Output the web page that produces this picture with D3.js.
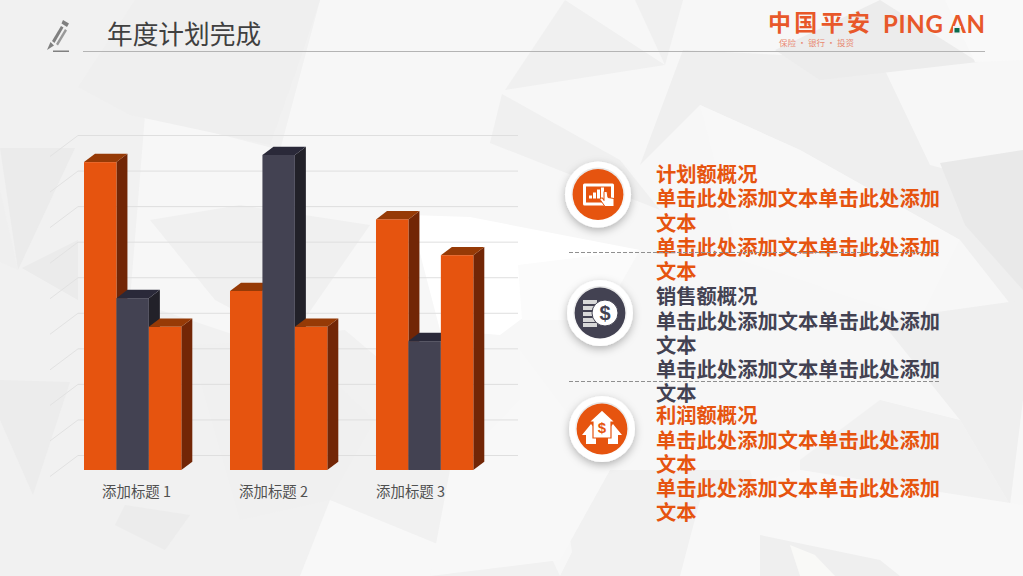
<!DOCTYPE html>
<html><head><meta charset="utf-8">
<script src="https://cdn.jsdelivr.net/npm/d3@7"></script>
<style>html,body{margin:0;padding:0;background:#f7f7f7;overflow:hidden}svg{display:block}text{font-family:"Noto Sans CJK SC","Noto Sans",sans-serif}</style>
</head><body><svg id="c" width="1023" height="576"></svg>
<script>
// ---- data ----
const categories = ["添加标题 1", "添加标题 2", "添加标题 3"];
const series1 = [4.3, 2.5, 3.5];
const series2 = [2.4, 4.4, 1.8];
const series3 = [2, 2, 3];
const gridTicks = [0.5, 1, 1.5, 2, 2.5, 3, 3.5, 4, 4.5, 5];
const pageTitle = "年度计划完成";
const blockHeads = ["计划额概况", "销售额概况", "利润额概况"];
const bodyLines = ["单击此处添加文本单击此处添加", "文本", "单击此处添加文本单击此处添加", "文本"];

const ORANGE = {front:"#e6540f", top:"#963a06", side:"#722606"};
const DARK = {front:"#434252", top:"#2a2939", side:"#222129"};
const seriesStyles = [ORANGE, DARK, ORANGE];

const svg = d3.select("#c");

// ---- decorative low-poly background ----
const bg = [
 ["#f1f1f1","0,0 320,0 280,150 145,115 130,300 250,340 345,330 510,470 560,576 0,576"],
 ["#efefef","135,0 320,0 300,60 270,145 130,115 78,87"],
 ["#f0f0f0","150,220 240,205 370,225 290,340 215,300"],
 ["#f0f0f0","190,345 290,340 375,420 330,500 240,520"],
 ["#ebebeb","0,148 75,148 18,270"],
 ["#ebebeb","22,268 78,240 78,300"],
 ["#ececec","0,380 70,382 33,495 0,420"],
 ["#ececec","125,505 190,515 165,550 115,525"],
 ["#efefef","0,190 18,270 0,262"],
 ["#ffffff","410,215 470,217 640,250 520,320 500,335 440,330"],
 ["#fbfbfb","518,265 640,250 600,320 522,320"],
 ["#f0f0f0","565,0 665,65 505,90"],
 ["#f0f0f0","502,94 620,160 660,210 490,143"],
 ["#f0f0f0","635,0 665,65 683,0"],
 ["#efefef","640,165 683,50 880,60 930,165 1023,190 1023,320 960,240 800,150 700,105"],
 ["#ececec","880,0 978,62 820,80 775,50"],
 ["#f9f9f9","945,0 1023,0 1023,60 975,62"],
 ["#e9e9e9","940,163 1023,150 1023,290 965,225"],
 ["#f8f8f8","700,105 800,150 960,240 920,320 740,260"],
 ["#efefef","880,320 1023,300 1023,400 1010,505 960,420"],
 ["#f1f1f1","800,460 880,400 960,420 1010,505 800,470"],
 ["#f1f1f1","560,470 750,470 780,576 560,576 572,552"],
 ["#f8f8f8","700,500 800,470 1023,505 1023,576 680,576"],
 ["#efefef","760,535 880,560 900,576 760,576"],
 ["#f9f9f7","790,545 815,555 835,576 800,576"],
 ["#f8f8f8","330,500 440,545 430,576 300,576"],
 ["#f8f8f8","450,470 520,400 520,350 610,470 560,560 430,576"]
];
svg.append("g").selectAll("polygon").data(bg).join("polygon")
  .attr("fill", d => d[0]).attr("points", d => d[1]);

// ---- scales ----
const y = d3.scaleLinear().domain([0, 5]).range([470, 112]);
const gridY = d3.scaleLinear().domain([0.5, 5]).range([455, 135]);
const x0 = d3.scaleBand().domain(categories).range([84, 473.3]).paddingInner(0.3335);
const x1 = d3.scaleBand().domain([0, 1, 2]).range([0, x0.bandwidth()]);
const labelX = d3.scalePoint().domain(categories).range([136, 410]);
const DX = 11, DY = -8.3;

// ---- grid ----
const grid = svg.append("g");
grid.selectAll(".gh").data(gridTicks).join("line").attr("class", "gh")
  .attr("x1", 78).attr("x2", 518).attr("y1", d => gridY(d)+.5).attr("y2", d => gridY(d)+.5)
  .attr("stroke", "#dfdfdf").attr("stroke-width", 1);
grid.selectAll(".go").data(gridTicks).join("line").attr("class", "go")
  .attr("x1", 78).attr("x2", 50).attr("y1", d => gridY(d)+.5).attr("y2", d => gridY(d)+21.5)
  .attr("stroke", "#e2e2e2").attr("stroke-width", 1);

// ---- bars ----
const rows = categories.map((c, i) => ({c, v: [series1[i], series2[i], series3[i]]}));
const groups = svg.append("g").selectAll("g").data(rows).join("g")
  .attr("transform", d => `translate(${x0(d.c)},0)`);
const bars = groups.selectAll("g").data(d => d.v.map((v, s) => ({v, s}))).join("g");
const W = x1.bandwidth();
bars.append("path").attr("fill", d => seriesStyles[d.s].side)
  .attr("d", d => { const l = x1(d.s)+W, t = y(d.v), b = y(0);
    return `M${l},${t}L${l+DX},${t+DY}L${l+DX},${b+DY}L${l},${b}Z`; });
bars.append("path").attr("fill", d => seriesStyles[d.s].top)
  .attr("d", d => { const l = x1(d.s), t = y(d.v);
    return `M${l},${t}L${l+DX},${t+DY}L${l+W+DX},${t+DY}L${l+W},${t}Z`; });
bars.append("rect").attr("fill", d => seriesStyles[d.s].front)
  .attr("x", d => x1(d.s)).attr("width", W)
  .attr("y", d => y(d.v)).attr("height", d => y(0)-y(d.v));

// ---- category axis ----
const ax = svg.append("g").attr("transform", "translate(0,485.5)")
  .call(d3.axisBottom(labelX).tickSize(0).tickPadding(0));
ax.select(".domain").remove();
ax.selectAll("text").attr("dy", "0.78em").attr("font-size", 14.4).attr("font-weight", 400)
  .attr("fill", "#505050").style("font-family", '"Noto Sans CJK SC"');

// ---- header ----
svg.append("line").attr("x1", 83).attr("x2", 985).attr("y1", 51.5).attr("y2", 51.5).attr("stroke", "#b4b4b4");
svg.append("text").attr("x", 107).attr("y", 44).attr("font-size", 25.7).attr("fill", "#404040")
  .attr("font-weight", 400).text(pageTitle);
const pencil = svg.append("g").attr("fill", "#808080");
pencil.append("path").attr("d", "M47,50L50.5,42L54,45.5Z");
pencil.append("path").attr("d", "M52,41L61,26L63.5,27.5L54.5,43Z");
pencil.append("path").attr("d", "M56,44L65,29L67,30.5L58,45.5Z").attr("fill", "#999");
pencil.append("path").attr("d", "M61.5,23.5L63,20L69,23.5L67,27Z");
pencil.append("rect").attr("x", 53).attr("y", 50.5).attr("width", 16).attr("height", 1.5);

// ---- logo ----
svg.append("text").attr("x", 768).attr("y", 31).attr("font-size", 23).attr("font-weight", 700)
  .attr("fill", "#e8582a").attr("textLength", 102).attr("lengthAdjust", "spacing").text("中国平安");
svg.append("text").attr("x", 883).attr("y", 33).attr("font-size", 24).attr("font-weight", 700)
  .attr("fill", "#e8582a").style("font-family", '"Lato"').attr("textLength", 102).attr("lengthAdjust", "spacing").text("PING AN");
svg.append("rect").attr("x", 953).attr("y", 26).attr("width", 8).attr("height", 7.5).attr("fill", "#f0f0f0");
svg.append("rect").attr("x", 954.5).attr("y", 28).attr("width", 5).attr("height", 4.5).attr("fill", "#0a6b4c");
svg.append("text").attr("x", 779).attr("y", 45.5).attr("font-size", 8.5).attr("fill", "#e88a72")
  .attr("textLength", 75).text("保险 · 银行 · 投资");

// ---- right text ----
const lineTops = [[174.5,198.5,223.5,247.5,271.5],[296.5,321.5,345.5,369.5,394],[415.5,440.5,464.5,488.5,512.5]];
const blockColors = [ORANGE.front, DARK.front, ORANGE.front];
blockHeads.forEach((h, b) => {
  const lines = [h, ...bodyLines];
  svg.append("g").selectAll("text").data(lines).join("text")
    .attr("x", 656).attr("y", (d, i) => lineTops[b][i]).attr("dy", "0.36em")
    .attr("font-size", 20.3).attr("font-weight", 700).attr("fill", blockColors[b]).text(d => d);
});
[252.5, 381.5].forEach(yy => svg.append("line").attr("x1", 569).attr("x2", 940).attr("y1", yy).attr("y2", yy)
  .attr("stroke", "#8f8f8f").attr("stroke-dasharray", "4 2"));

// ---- round icons ----
const defs = svg.append("defs");
const f = defs.append("filter").attr("id", "sh").attr("x", "-40%").attr("y", "-40%").attr("width", "180%").attr("height", "180%");
f.append("feDropShadow").attr("dx", 0).attr("dy", 3).attr("stdDeviation", 4).attr("flood-color", "#000").attr("flood-opacity", .28);
const rg = defs.append("linearGradient").attr("id", "ring").attr("x1", 0).attr("x2", 0).attr("y1", 0).attr("y2", 1);
rg.append("stop").attr("offset", 0).attr("stop-color", "#e6e6e6");
rg.append("stop").attr("offset", 1).attr("stop-color", "#ffffff");
function badge(cx, cy, col) {
  const g = svg.append("g").attr("transform", `translate(${cx},${cy})`);
  g.append("circle").attr("r", 33).attr("fill", "#fff").attr("filter", "url(#sh)");
  g.append("circle").attr("r", 27).attr("fill", "url(#ring)");
  g.append("circle").attr("r", 25.4).attr("fill", col);
  return g;
}
const i1 = badge(598, 194.5, ORANGE.front);
i1.append("rect").attr("x", -15).attr("y", -11).attr("width", 31).attr("height", 22).attr("rx", 1.5).attr("fill", "#fff");
i1.append("rect").attr("x", -12).attr("y", -8).attr("width", 25).attr("height", 16).attr("fill", ORANGE.front);
i1.selectAll(".b").data([[-9,3],[-5,6],[-1,9],[3,11]]).join("rect").attr("x", d => d[0]).attr("width", 3)
  .attr("y", d => 4-d[1]).attr("height", d => d[1]).attr("fill", "#fff");
i1.append("path").attr("d", "M6,-3L9,-3L10,3L16,4L16,12L7,12L2,5L4,3L6,6Z").attr("fill", "#fff").attr("stroke", ORANGE.front).attr("stroke-width", 1);

const i2 = badge(600, 313, DARK.front);
i2.selectAll(".s").data([-13,-7,-1,5,10]).join("rect").attr("x", -17).attr("y", d => d).attr("width", 14).attr("height", 4)
  .attr("fill", "#d8d8d8");
i2.append("circle").attr("cx", 5).attr("cy", 0).attr("r", 13).attr("fill", "#fff").attr("stroke", DARK.front).attr("stroke-width", 1);
i2.append("text").attr("x", 5).attr("y", 7).attr("text-anchor", "middle").attr("font-size", 20).attr("font-weight", 700)
  .attr("fill", DARK.front).style("font-family", '"Liberation Sans"').text("$");

const i3 = badge(602, 429, ORANGE.front);
i3.append("path").attr("fill", "#fff").attr("d", "M-11,-5L-2,6L-6,6L-6,15L-16,15L-16,6L-20,6Z");
i3.append("path").attr("fill", "#fff").attr("d", "M11,-5L20,6L16,6L16,15L6,15L6,6L2,6Z");
i3.append("path").attr("fill", "#fff").attr("stroke", ORANGE.front).attr("stroke-width", 1.2)
  .attr("d", "M0,-19L13,-7L9,-7L9,9L-9,9L-9,-7L-13,-7Z");
i3.append("text").attr("x", 0).attr("y", 4).attr("text-anchor", "middle").attr("font-size", 15).attr("font-weight", 700)
  .attr("fill", ORANGE.front).style("font-family", '"Liberation Sans"').text("$");
</script></body></html>
